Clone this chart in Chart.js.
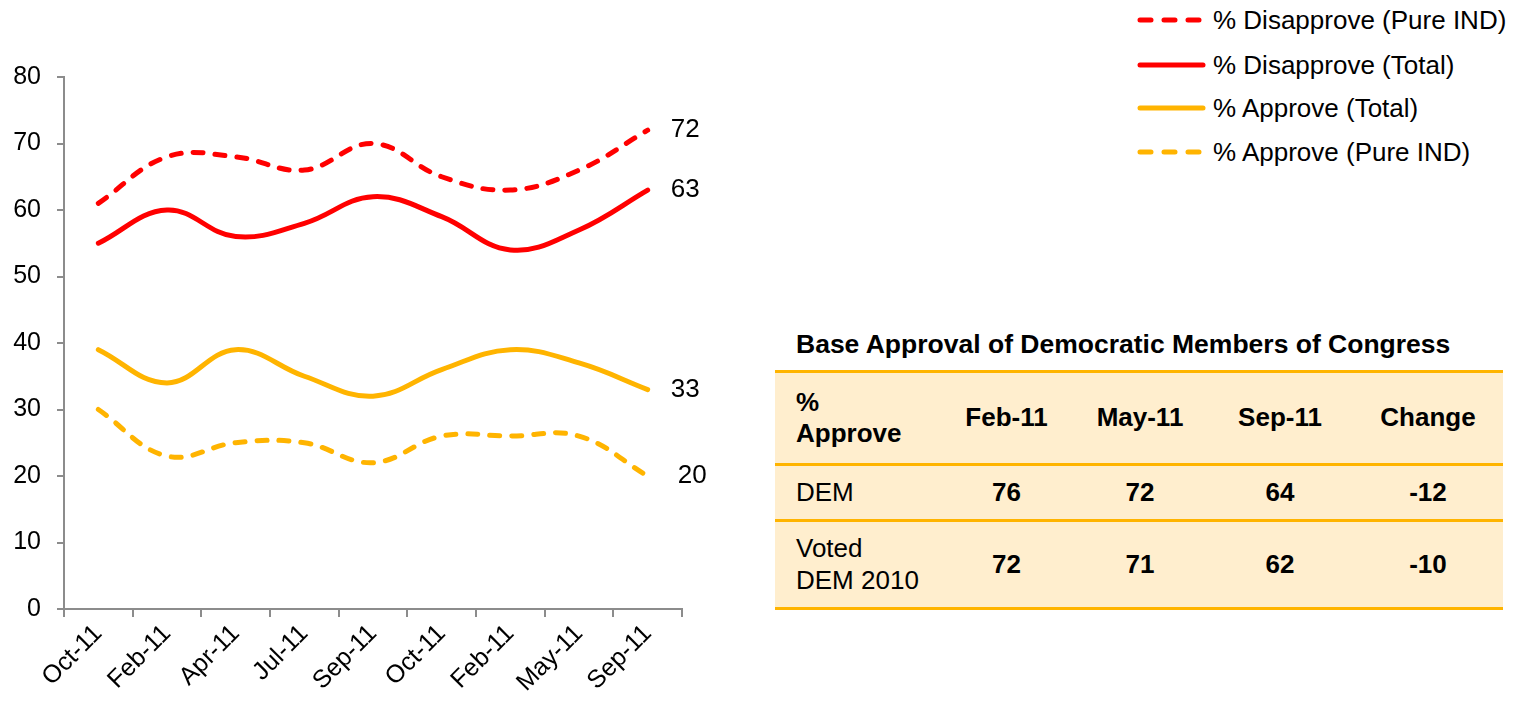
<!DOCTYPE html>
<html>
<head>
<meta charset="utf-8">
<script src="https://cdn.jsdelivr.net/npm/chart.js@4/dist/chart.umd.min.js"></script>
<style>
    html, body { margin: 0; padding: 0; background: #fff; }
    body { width: 1525px; height: 701px; position: relative; overflow: hidden; font-family: 'Liberation Sans', Arial, sans-serif; color: #000; }
    #chartBox { position: absolute; left: 0; top: 0; width: 740px; height: 701px; }
    #legend { position: absolute; left: 1135px; top: 0; }
    .lg-item { position: absolute; left: 0; height: 30px; display: flex; align-items: center; white-space: nowrap; font-size: 26px; }
    .lg-item svg { margin-right: 6px; }
    #tblTitle { position: absolute; left: 796px; top: 329px; font-size: 26.5px; font-weight: bold; white-space: nowrap; }
    #tbl { position: absolute; left: 775px; top: 370px; width: 728px; border-collapse: collapse; background: #FFEECE; font-size: 26px; line-height: 1.2; }
    #tbl td { padding: 0; border: none; }
    #tbl tr { border-bottom: 3px solid #FFB400; }
    #tbl tr:first-child { border-top: 3px solid #FFB400; }
    #tbl td.lbl { padding-left: 21px; text-align: left; }
    #tbl td.num { text-align: center; font-weight: bold; }
    #tbl tr.head td { font-weight: bold; }
</style>
</head>
<body>
<div id="chartBox"><canvas id="lineChart"></canvas></div>
<div id="legend"></div>
<div id="tblTitle">Base Approval of Democratic Members of Congress</div>
<table id="tbl"></table>

<script>
// chart data
const labels = ['Oct-11','Feb-11','Apr-11','Jul-11','Sep-11','Oct-11','Feb-11','May-11','Sep-11'];
const disapprovePureInd = [61, 68, 68, 66, 70, 65, 63, 66, 72];
const disapproveTotal   = [55, 60, 56, 58, 62, 59, 54, 57, 63];
const approveTotal      = [39, 34, 39, 35, 32, 36, 39, 37, 33];
const approvePureInd    = [30, 23, 25, 25, 22, 26, 26, 26, 20];
const yTicks = [0, 10, 20, 30, 40, 50, 60, 70, 80];

// table data
const tableTitle = 'Base Approval of Democratic Members of Congress';
const tableCols = ['Feb-11','May-11','Sep-11','Change'];
const tableRows = ['DEM', 'Voted<br>DEM 2010'];
const demValues = [76, 72, 64, -12];
const votedDemValues = [72, 71, 62, -10];

const RED = '#FF0000';
const GOLD = '#FFB400';
const FONT = "'Liberation Sans', Arial, sans-serif";

const datasets = [
    { label: '% Disapprove (Pure IND)', data: disapprovePureInd, borderColor: RED, borderDash: [10, 12], labelDx: 23 },
    { label: '% Disapprove (Total)', data: disapproveTotal, borderColor: RED, borderDash: [], labelDx: 23 },
    { label: '% Approve (Total)', data: approveTotal, borderColor: GOLD, borderDash: [], labelDx: 23 },
    { label: '% Approve (Pure IND)', data: approvePureInd, borderColor: GOLD, borderDash: [10, 12], labelDx: 30 }
].map(d => Object.assign(d, {
    backgroundColor: d.borderColor,
    borderWidth: 5,
    borderCapStyle: 'round',
    tension: 0.4,
    pointRadius: 0,
    fill: false
}));

// end labels (72, 63, 33, 20)
const endLabels = {
    id: 'endLabels',
    afterDatasetsDraw(chart) {
        const ctx = chart.ctx;
        ctx.save();
        ctx.font = '26px ' + FONT;
        ctx.fillStyle = '#000';
        ctx.textAlign = 'left';
        ctx.textBaseline = 'middle';
        chart.data.datasets.forEach((ds, i) => {
            const pts = chart.getDatasetMeta(i).data;
            const p = pts[pts.length - 1];
            ctx.fillText(String(ds.data[ds.data.length - 1]), p.x + ds.labelDx, p.y);
        });
        ctx.restore();
    }
};

const ctxLine = document.getElementById('lineChart').getContext('2d');
const chart = new Chart(ctxLine, {
    type: 'line',
    data: { labels: labels, datasets: datasets },
    options: {
        responsive: true,
        maintainAspectRatio: false,
        animation: false,
        layout: { padding: { top: 77, right: 58, left: 0, bottom: 0 } },
        plugins: { legend: { display: false }, tooltip: { enabled: false } },
        scales: {
            x: {
                offset: true,
                grid: { display: true, drawOnChartArea: false, drawTicks: true, tickLength: 8, color: '#8c8c8c', lineWidth: 2, offset: true },
                border: { color: '#8c8c8c', width: 2 },
                ticks: { color: '#000', font: { family: FONT, size: 25 }, minRotation: 45, maxRotation: 45, padding: 2, autoSkip: false },
                afterFit(scale) { scale.height = 92; }
            },
            y: {
                min: 0,
                max: 80,
                afterBuildTicks(scale) { scale.ticks = yTicks.map(v => ({ value: v })); },
                grid: { display: true, drawOnChartArea: false, drawTicks: true, tickLength: 7, color: '#8c8c8c', lineWidth: 2 },
                border: { color: '#8c8c8c', width: 2 },
                ticks: { color: '#000', font: { family: FONT, size: 25 }, padding: 16 },
                afterFit(scale) { scale.width = 64; }
            }
        }
    },
    plugins: [endLabels]
});

// legend built from dataset styles
const legendTops = [5, 50, 93, 137];
const legendEl = document.getElementById('legend');
datasets.forEach((ds, i) => {
    const item = document.createElement('div');
    item.className = 'lg-item';
    item.style.top = legendTops[i] + 'px';
    const dash = ds.borderDash.length ? ` stroke-dasharray="11 13"` : '';
    item.innerHTML = `<svg width="72" height="10"><line x1="5" y1="5" x2="68" y2="5" stroke="${ds.borderColor}" stroke-width="5" stroke-linecap="round"${dash}/></svg><span>${ds.label}</span>`;
    legendEl.appendChild(item);
});

// table
const tbl = document.getElementById('tbl');
const colWidths = [165, 133, 134, 146, 150];
const rowHeights = [93, 56, 88];
let html = '<colgroup>' + colWidths.map(w => `<col style="width:${w}px">`).join('') + '</colgroup>';
html += `<tr class="head" style="height:${rowHeights[0]}px"><td class="lbl">%<br>Approve</td>` + tableCols.map(c => `<td class="num">${c}</td>`).join('') + '</tr>';
[demValues, votedDemValues].forEach((vals, r) => {
    html += `<tr style="height:${rowHeights[r + 1]}px"><td class="lbl">${tableRows[r]}</td>` + vals.map(v => `<td class="num">${v}</td>`).join('') + '</tr>';
});
tbl.innerHTML = html;
document.getElementById('tblTitle').textContent = tableTitle;
</script>
</body>
</html>
